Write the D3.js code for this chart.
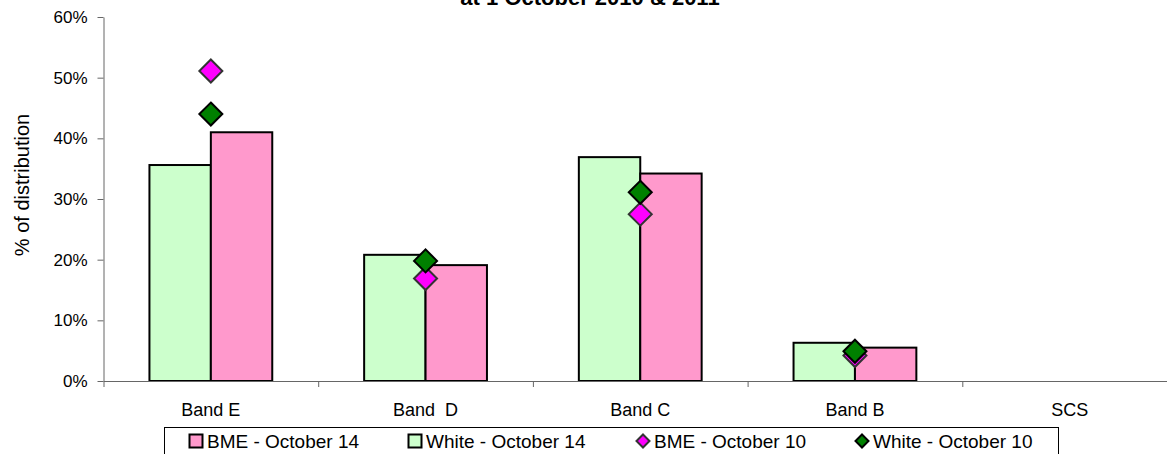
<!DOCTYPE html>
<html>
<head>
<meta charset="utf-8">
<script src="https://cdn.jsdelivr.net/npm/d3@7"></script>
<style>
  html, body { margin: 0; padding: 0; background: #fff; }
  svg { display: block; font-family: "Liberation Sans", Arial, sans-serif; }
</style>
</head>
<body>
<svg id="chart" width="1167" height="454"></svg>
<script>
// ---- Data ----
const categories = ["Band E", "Band  D", "Band C", "Band B", "SCS"];
const bmeOct14   = [41.0, 19.1, 34.2, 5.5, null];
const whiteOct14 = [35.6, 20.8, 36.9, 6.3, null];
const bmeOct10   = [51.1, 16.9, 27.5, 4.2, null];
const whiteOct10 = [44.0, 19.8, 31.1, 4.9, null];
const yTicks = [0, 10, 20, 30, 40, 50, 60];
const titleText = "at 1 October 2010 & 2011";
const yTitle = "% of distribution";
const legendItems = [
  { label: "BME - October 14",   kind: "square",  fill: "#FF99CC", stroke: "#000" },
  { label: "White - October 14", kind: "square",  fill: "#CCFFCC", stroke: "#000" },
  { label: "BME - October 10",   kind: "diamond", fill: "#FF00FF", stroke: "#333" },
  { label: "White - October 10", kind: "diamond", fill: "#008000", stroke: "#000" }
];

(function () {
// ---- Layout ----
const svg = d3.select("#chart");
const pLeft = 103.5, pRight = 1177, pTop = 17, pBottom = 381;

const x = d3.scaleBand().domain(categories).range([pLeft, pRight]).paddingInner(0).paddingOuter(0);
const y = d3.scaleLinear().domain([0, 60]).range([pBottom, pTop]);
const barW = x.bandwidth() * 0.286;

// Title (partially cropped at top as in reference)
svg.append("text")
  .attr("x", 590).attr("y", 4.5)
  .attr("text-anchor", "middle")
  .attr("font-weight", "bold")
  .attr("font-size", 22)
  .text(titleText);

// Y axis
const yAxis = d3.axisLeft(y).tickValues(yTicks).tickFormat(d => d + "%")
  .tickSize(6).tickSizeOuter(0).tickPadding(10);
const gy = svg.append("g").attr("transform", `translate(${pLeft},0)`).call(yAxis);
gy.selectAll("text").attr("font-size", 17).attr("fill", "#000").attr("font-family", "Liberation Sans, Arial, sans-serif");
gy.selectAll("line").attr("stroke", "#666");
gy.select(".domain").attr("stroke", "#666");

// Y title
svg.append("text")
  .attr("transform", `translate(29,185) rotate(-90)`)
  .attr("text-anchor", "middle")
  .attr("font-size", 20)
  .text(yTitle);

// Bars
const groups = svg.append("g");
categories.forEach((c, i) => {
  const cx = x(c) + x.bandwidth() / 2;
  if (whiteOct14[i] != null) {
    groups.append("rect")
      .attr("x", cx - barW).attr("y", y(whiteOct14[i]))
      .attr("width", barW).attr("height", y(0) - y(whiteOct14[i]))
      .attr("fill", "#CCFFCC").attr("stroke", "#000").attr("stroke-width", 2);
  }
  if (bmeOct14[i] != null) {
    groups.append("rect")
      .attr("x", cx).attr("y", y(bmeOct14[i]))
      .attr("width", barW).attr("height", y(0) - y(bmeOct14[i]))
      .attr("fill", "#FF99CC").attr("stroke", "#000").attr("stroke-width", 2);
  }
});

// X axis: line, boundary ticks, labels
const idx = d3.scaleLinear().domain([0, categories.length]).range([pLeft, pRight]);
const xTickAxis = d3.axisBottom(idx).tickValues(d3.range(categories.length + 1)).tickFormat("").tickSize(6).tickSizeOuter(0);
const gx = svg.append("g").attr("transform", `translate(0,${pBottom})`).call(xTickAxis);
gx.selectAll("line").attr("stroke", "#666");
gx.select(".domain").attr("stroke", "#666");

const xLabAxis = d3.axisBottom(x).tickSize(0).tickPadding(22);
const gxl = svg.append("g").attr("transform", `translate(0,${pBottom})`).call(xLabAxis);
gxl.select(".domain").remove();
gxl.selectAll("text").attr("font-size", 18).attr("fill", "#000")
  .attr("font-family", "Liberation Sans, Arial, sans-serif")
  .style("white-space", "pre");

// Diamonds
const diamond = r => `M0,${-r}L${r},0L0,${r}L${-r},0Z`;
function drawMarkers(vals, fill, stroke) {
  categories.forEach((c, i) => {
    if (vals[i] == null) return;
    svg.append("path")
      .attr("d", diamond(11.5))
      .attr("transform", `translate(${x(c) + x.bandwidth() / 2},${y(vals[i])})`)
      .attr("fill", fill).attr("stroke", stroke).attr("stroke-width", 2);
  });
}
drawMarkers(bmeOct10, "#FF00FF", "#333");
drawMarkers(whiteOct10, "#008000", "#000");

// Legend
const lg = svg.append("g");
lg.append("rect").attr("x", 164.5).attr("y", 427.5).attr("width", 894).attr("height", 40)
  .attr("fill", "#fff").attr("stroke", "#000").attr("stroke-width", 1);
const legendX = [189, 408, 636, 855];
legendItems.forEach((it, i) => {
  const g = lg.append("g").attr("transform", `translate(${legendX[i]},441)`);
  if (it.kind === "square") {
    g.append("rect").attr("x", 0.5).attr("y", -6.5).attr("width", 13).attr("height", 13)
      .attr("fill", it.fill).attr("stroke", it.stroke).attr("stroke-width", 2);
  } else {
    g.append("path").attr("d", diamond(6.5)).attr("transform", "translate(7,0)")
      .attr("fill", it.fill).attr("stroke", it.stroke).attr("stroke-width", 2);
  }
  g.append("text").attr("x", 18).attr("y", 6.5).attr("font-size", 19).text(it.label);
});
})();
</script>
</body>
</html>
